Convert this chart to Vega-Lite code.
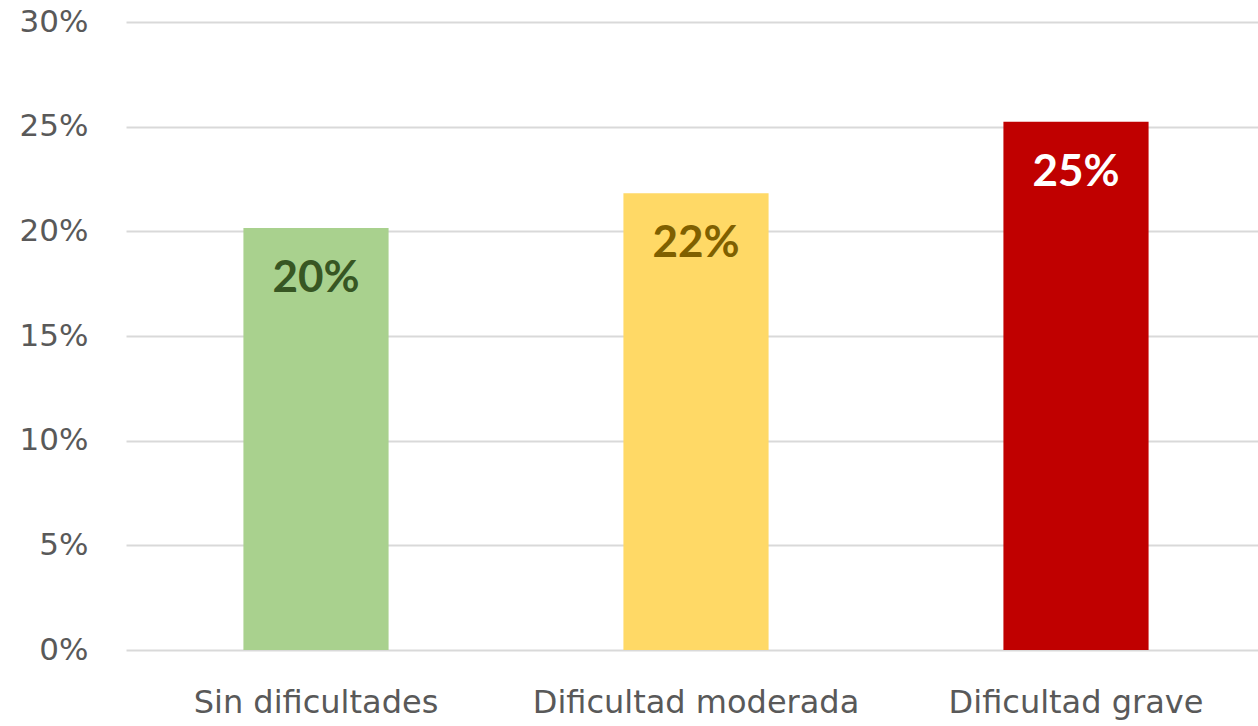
{
  "$schema": "https://vega.github.io/schema/vega-lite/v6.json",
  "autosize": {"type": "none"},
  "width": 1140,
  "height": 628,
  "padding": {"left": 126, "top": 22, "right": 0, "bottom": 76},
  "background": "white",
  "data": {"values": [
    {"categoria": "Sin dificultades", "valor": 0.2016, "etiqueta": "20%", "color": "#A9D18E", "colorEtiqueta": "#375623"},
    {"categoria": "Dificultad moderada", "valor": 0.2182, "etiqueta": "22%", "color": "#FFD966", "colorEtiqueta": "#7F6000"},
    {"categoria": "Dificultad grave", "valor": 0.2524, "etiqueta": "25%", "color": "#C00000", "colorEtiqueta": "#FFFFFF"}
  ]},
  "config": {
    "view": {"stroke": null},
    "font": "Lato"
  },
  "encoding": {
    "x": {
      "field": "categoria", "type": "nominal", "sort": null,
      "scale": {"paddingInner": 0.618, "paddingOuter": 0.309},
      "axis": {"title": null, "labelAngle": 0, "ticks": false, "domain": false, "labelFontSize": 32, "labelColor": "#595959", "labelPadding": 37, "labelFont": "DejaVu Sans", "labelLimit": 0}
    },
    "y": {
      "field": "valor", "type": "quantitative",
      "scale": {"domain": [0, 0.3]},
      "axis": {"title": null, "format": ".0%", "values": [0, 0.05, 0.1, 0.15, 0.2, 0.25, 0.3], "ticks": false, "domain": false, "labelFontSize": 31, "labelColor": "#595959", "labelPadding": 38, "gridColor": "#D9D9D9", "gridWidth": 2, "labelFont": "DejaVu Sans"}
    }
  },
  "layer": [
    {
      "mark": {"type": "bar"},
      "encoding": {"color": {"field": "color", "type": "nominal", "scale": null}}
    },
    {
      "mark": {"type": "text", "baseline": "middle", "align": "center", "dy": 51, "fontSize": 44, "fontWeight": "bold", "font": "Lato"},
      "encoding": {
        "text": {"field": "etiqueta"},
        "color": {"field": "colorEtiqueta", "type": "nominal", "scale": null}
      }
    }
  ]
}
